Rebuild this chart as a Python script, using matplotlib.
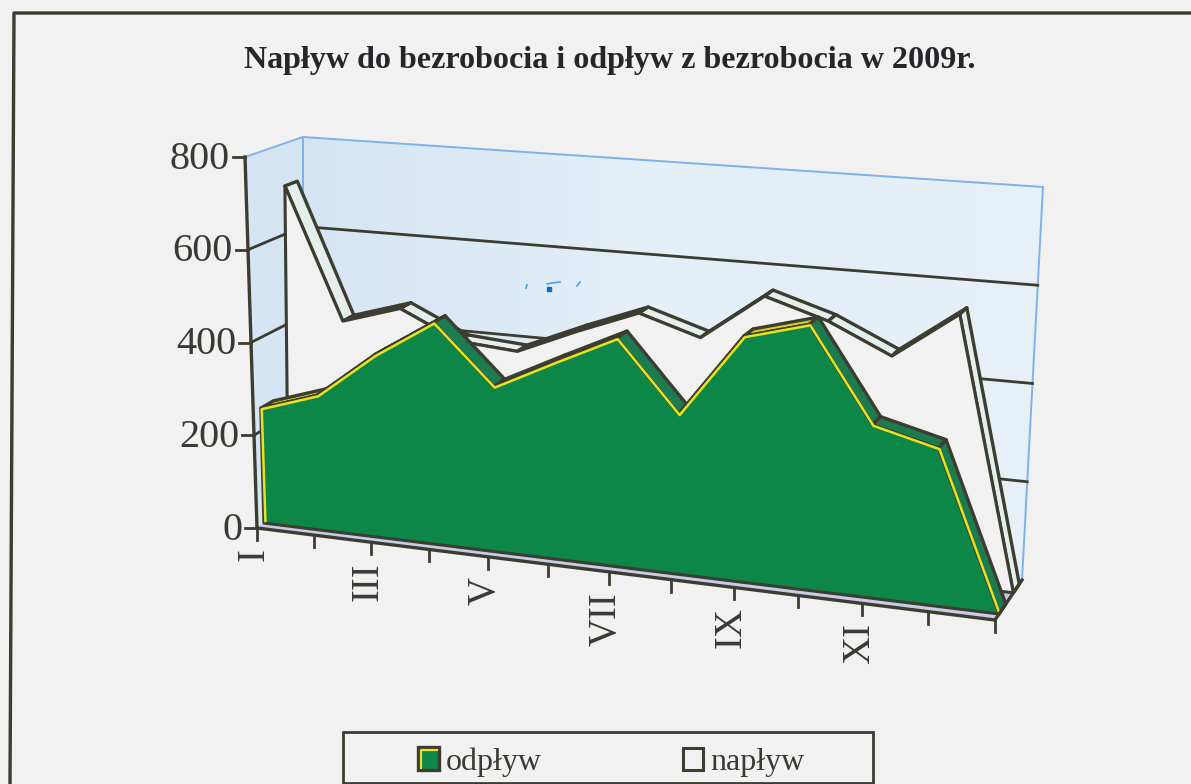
import numpy as np
import matplotlib
matplotlib.use('Agg')
import matplotlib.pyplot as plt
from matplotlib.colors import to_rgb
from matplotlib.patches import Polygon, Rectangle

plt.rcParams['font.family'] = ['Liberation Serif', 'DejaVu Serif']

# ---- data ----
title = 'Napływ do bezrobocia i odpływ z bezrobocia w 2009r.'
months = ['I', '', 'III', '', 'V', '', 'VII', '', 'IX', '', 'XI', '', '']
odplyw = [249, 290, 389, 470, 347, 411, 473, 329, 501, 537, 347, 314, 0]
naplyw = [706, 419, 458, 399, 389, 444, 494, 454, 552, 512, 452, 549, 0]
y_ticks = [0, 200, 400, 600, 800]

BG = '#f1f1f1'
DARK = '#3c3c30'
WALL = ['#d5e5f3', '#d9e8f4', '#dcebf5', '#e8f1f8', '#e2eef6', '#e4eff7', '#e8f0f7']

# ---- perspective scene: category t, value v, depth d -> figure pixels ----
FL, FR = np.array([257., 528.]), np.array([995., 620.])
BL, BR = np.array([303., 495.]), np.array([1022., 580.])
FLT, FRT = np.array([245., 157.]), np.array([1012., 213.])
BLT, BRT = np.array([303., 137.]), np.array([1043., 187.])
K = 1.095
NT = len(months) - 1


def lerp(a, b, u):
    return a + (b - a) * u


def P(t, v, d):
    s = t / (K * (NT - t) + t)
    bot = lerp(lerp(FL, BL, d), lerp(FR, BR, d), s)
    top = lerp(lerp(FLT, BLT, d), lerp(FRT, BRT, d), s)
    return lerp(bot, top, v / 800.0)


fig = plt.figure(figsize=(11.91, 7.84), dpi=100, facecolor=BG)
ax = fig.add_axes([0, 0, 1, 1])

# outer frame: open at the right and the bottom, slightly skewed by the scan
ax.plot([1191, 14, 10], [13, 13, 784], color=DARK, lw=2.4, zorder=1)

# walls
wall = Polygon([FL, FLT, BLT, BRT, BR, BL], closed=True, fc='none', ec='none')
ax.add_patch(wall)
grad = np.array([[to_rgb(c) for c in WALL]])
im = ax.imshow(grad, extent=[245, 1043, 620, 137], aspect='auto', zorder=2, interpolation='bicubic')
im.set_clip_path(wall)
ax.set_xlim(0, 1191)
ax.set_ylim(784, 0)
ax.axis('off')
for a, b in [(FLT, BLT), (BLT, BRT), (BRT, BR), (BLT, BL)]:
    ax.plot([a[0], b[0]], [a[1], b[1]], color='#7fb2ea', lw=1.4, zorder=3)

# floor
floor = Polygon([FL, FR, BR, BL], closed=True, fc='#c6cde6', ec='none', zorder=3)
ax.add_patch(floor)

# gridlines on back wall and side wall
for v in y_ticks[1:-1]:
    a, b, c = P(0, v, 0), P(0, v, 1), P(NT, v, 1)
    ax.plot([a[0], b[0], c[0]], [a[1], b[1], c[1]], color=DARK, lw=2, zorder=4)

# scan specks on the wall
for xs, ys in [([526, 527], [288, 285]), ([547, 552, 560], [284, 283, 282]), ([577, 580], [286, 282])]:
    ax.plot(xs, ys, color='#46a6e0', lw=1.2, zorder=4)
ax.plot([549], [289], 's', ms=2.5, color='#1070c0', zorder=4)


def area(values, d0, d1, face, strip_down, strip_up, z, yellow=False):
    ts = np.arange(len(values))
    front = np.array([P(t, v, d0) for t, v in zip(ts, values)])
    back = np.array([P(t, v, d1) for t, v in zip(ts, values)])
    base_l, base_r = P(0, 0, d0), P(NT, 0, d0)
    # strips, left to right
    for i in range(len(values) - 1):
        up = front[i + 1][1] < front[i][1]
        col = strip_up if up else strip_down
        ax.add_patch(Polygon([front[i], back[i], back[i + 1], front[i + 1]], closed=True,
                             fc=col, ec=DARK, lw=2.4, joinstyle='round', zorder=z))
    # front face
    ax.add_patch(Polygon(np.vstack([base_l, front, base_r]), closed=True, fc=face, ec=DARK, lw=2.2,
                         joinstyle='round', zorder=z + 0.1))
    if yellow:
        pts = np.vstack([base_l + [1.5, -2], front + [1, 1]])
        ax.plot(pts[:, 0], pts[:, 1], color='#eae21e', lw=1.8, zorder=z + 0.2)


area(naplyw, 0.68, 0.90, BG, '#e4efed', '#e4efed', 5)
area(odplyw, 0.15, 0.40, '#0c8748', '#1b7d4f', '#d8d020', 6, yellow=True)

# y axis
top, bot = P(0, 800, 0), P(0, 0, 0)
ax.plot([top[0], bot[0]], [top[1], bot[1]], color=DARK, lw=2.4, zorder=7)
for v in y_ticks:
    p = P(0, v, 0)
    ax.plot([p[0] - 12, p[0]], [p[1], p[1]], color=DARK, lw=2, zorder=7)
    ax.text(p[0] - 15, p[1] + 2, str(v), fontsize=29, ha='right', va='center', color='#3a3a34', zorder=7)

# x axis
a, b = P(0, 0, 0), P(NT, 0, 0)
ax.plot([a[0], b[0]], [a[1], b[1]], color=DARK, lw=2.4, zorder=7)
c = P(NT, 0, 1)
ax.plot([b[0], c[0]], [b[1], c[1]], color=DARK, lw=2.4, zorder=7)
for t, lab in enumerate(months):
    p = P(t, 0, 0)
    ax.plot([p[0], p[0]], [p[1], p[1] + 12], color=DARK, lw=2, zorder=7)
    if lab:
        ax.text(p[0] - 3, p[1] + 20, lab, fontsize=28, rotation=90, ha='center', va='top', color='#3a3a34', zorder=7)

# title
ax.text(610, 60, title, fontsize=23.1, fontweight='bold', ha='center', va='center', color='#26262a', zorder=7)

# legend
ax.add_patch(Rectangle((343, 732), 530, 51, fc=BG, ec=DARK, lw=2, zorder=7))
ax.add_patch(Rectangle((418, 747), 21, 23, fc='#0c8748', ec=DARK, lw=2.4, zorder=8))
ax.plot([420.5, 420.5, 437], [768, 749.5, 749.5], color='#eae21e', lw=1.6, zorder=9)
ax.add_patch(Rectangle((683, 748), 20, 22, fc=BG, ec=DARK, lw=2.2, zorder=8))
ax.text(446, 770, 'odpływ', fontsize=23, ha='left', va='baseline', color='#3a3a34', zorder=8)
ax.text(710, 770, 'napływ', fontsize=23, ha='left', va='baseline', color='#3a3a34', zorder=8)

fig.savefig('out.png', dpi=100, facecolor=BG)
